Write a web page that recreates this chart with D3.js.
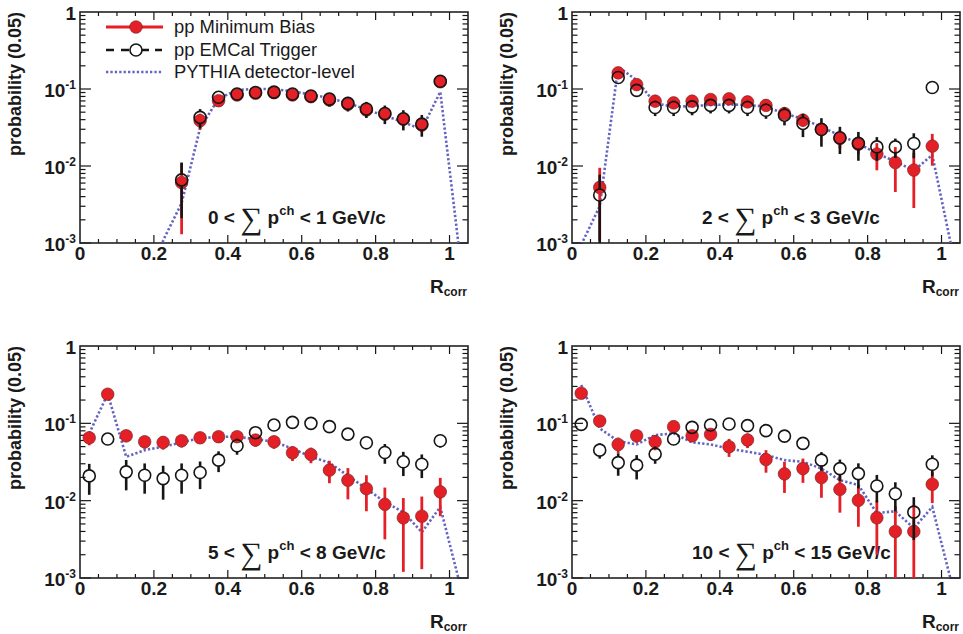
<!DOCTYPE html>
<html><head><meta charset="utf-8">
<script src="https://cdn.jsdelivr.net/npm/d3@7"></script>
<style>
body{margin:0;background:#fff}
svg{display:block}
text{font-family:"Liberation Sans",Arial,Helvetica,sans-serif}
</style>
</head><body>
<svg id="c" width="963" height="634"></svg>
<script>
// ---------- data ----------
const rcorrBins  = [0.025,0.075,0.125,0.175,0.225,0.275,0.325,0.375,0.425,0.475,0.525,0.575,0.625,0.675,0.725,0.775,0.825,0.875,0.925,0.975];
const pythiaBins = [0.025,0.075,0.125,0.175,0.225,0.275,0.325,0.375,0.425,0.475,0.525,0.575,0.625,0.675,0.725,0.775,0.825,0.875,0.925,0.975,1.025];

const seriesNames = ["pp Minimum Bias","pp EMCal Trigger","PYTHIA detector-level"];
const ptRanges = [["0","1"],["2","3"],["5","8"],["10","15"]];
const xTickLabels = ["0","0.2","0.4","0.6","0.8","1"];
const xTickValues = [0,0.2,0.4,0.6,0.8,1];
const yTickExps = [0,-1,-2,-3];
const yTitle = "probability (0.05)";

// 0 < sum p < 1 GeV/c
const mb1     = [null,null,null,null,null,0.0061,0.0388,0.0705,0.0836,0.088,0.0895,0.0836,0.0794,0.072,0.0633,0.0533,0.0469,0.0404,0.034,0.124];
const mb1Err  = [null,null,null,null,null,0.0048,0.009,0.012,0.01,0.011,0.011,0.011,0.01,0.01,0.011,0.009,0.008,0.007,0.006,0.007];
const emc1    = [null,null,null,null,null,0.0066,0.0428,0.078,0.086,0.09,0.091,0.086,0.081,0.074,0.065,0.055,0.048,0.041,0.035,0.126];
const emc1Err = [null,null,null,null,null,0.0045,0.012,0.01,0.015,0.016,0.016,0.016,0.015,0.015,0.014,0.013,0.013,0.012,0.011,0.01];
const pythia1 = [0.00001,0.00001,0.00001,0.00001,0.00108,0.0033,0.031,0.075,0.097,0.1,0.1,0.093,0.085,0.076,0.066,0.054,0.045,0.037,0.03,0.092,0.0009];

// 2 < sum p < 3 GeV/c
const mb2     = [null,0.00527,0.162,0.114,0.0695,0.066,0.0695,0.073,0.0745,0.068,0.0612,0.048,0.0394,0.0301,0.0228,0.0192,0.0143,0.0111,0.00885,0.0181];
const mb2Err  = [null,0.0042,0.012,0.01,0.01,0.01,0.01,0.01,0.01,0.01,0.009,0.008,0.007,0.006,0.006,0.005,0.0055,0.0065,0.006,0.008];
const emc2    = [null,0.0042,0.141,0.096,0.0575,0.0575,0.0586,0.0612,0.0612,0.0575,0.053,0.0457,0.0357,0.0298,0.0233,0.0197,0.0177,0.0177,0.0196,0.1046];
const emc2Err = [null,0.0035,0.01,0.01,0.013,0.013,0.013,0.013,0.013,0.013,0.012,0.012,0.012,0.012,0.009,0.008,0.006,0.005,0.007,0.005];
const pythia2 = [0.00095,0.003,0.194,0.13,0.065,0.059,0.06,0.062,0.063,0.062,0.059,0.048,0.041,0.032,0.025,0.0197,0.0145,0.0115,0.0087,0.0139,0.00098];

// 5 < sum p < 8 GeV/c
const mb3     = [0.065,0.238,0.069,0.0578,0.0567,0.0596,0.065,0.0672,0.0672,0.0608,0.0578,0.0416,0.0395,0.0248,0.0184,0.0143,0.00896,0.006,0.0063,0.013];
const mb3Err  = [0.013,0.02,0.012,0.011,0.011,0.011,0.011,0.011,0.011,0.011,0.011,0.009,0.009,0.008,0.008,0.007,0.0058,0.0048,0.005,0.0067];
const emc3    = [0.0209,0.0626,0.0236,0.0213,0.0193,0.0213,0.0231,0.0334,0.0513,0.0757,0.095,0.103,0.1,0.0906,0.0726,0.0561,0.042,0.0318,0.0296,0.0596];
const emc3Err = [0.009,0.009,0.01,0.009,0.009,0.009,0.009,0.01,0.012,0.01,0.008,0.008,0.008,0.008,0.009,0.01,0.012,0.011,0.01,0.011];
const pythia3 = [0.074,0.24,0.037,0.045,0.05,0.0567,0.064,0.067,0.067,0.0625,0.058,0.047,0.037,0.031,0.021,0.0143,0.0096,0.0071,0.0039,0.0083,0.00095];

// 10 < sum p < 15 GeV/c
const mb4     = [0.245,0.107,0.0533,0.069,0.0578,0.0906,0.069,0.072,0.0498,0.0608,0.034,0.0222,0.026,0.0199,0.014,0.0101,0.006,0.004,0.004,0.0163];
const mb4Err  = [0.02,0.015,0.012,0.013,0.013,0.01,0.012,0.013,0.013,0.013,0.011,0.0096,0.009,0.009,0.007,0.0055,0.004,0.0045,0.0048,0.007];
const emc4    = [0.097,0.045,0.031,0.0288,0.04,0.0626,0.0887,0.095,0.098,0.0933,0.0804,0.0684,0.055,0.0334,0.026,0.0224,0.0155,0.0123,0.0071,0.0296];
const emc4Err = [0.012,0.01,0.01,0.01,0.01,0.01,0.01,0.01,0.01,0.01,0.009,0.009,0.009,0.009,0.008,0.008,0.006,0.005,0.004,0.009];
const pythia4 = [0.314,0.086,0.059,0.0533,0.0705,0.074,0.0567,0.0533,0.047,0.043,0.039,0.0334,0.0318,0.026,0.0184,0.0159,0.0069,0.0073,0.0044,0.0083,0.00095];

// ---------- drawing ----------
const RED = "#e51f26", BLACK = "#161616", BLUE = "#6464c2";
const W = 388, R = 6;
const svg = d3.select("#c");
const defs = svg.append("defs");

const panels = [
  {left:80,  top:12,  h:231, mb:mb1, mbErr:mb1Err, emc:emc1, emcErr:emc1Err, py:pythia1, range:ptRanges[0], labelDx:128},
  {left:572, top:12,  h:231, mb:mb2, mbErr:mb2Err, emc:emc2, emcErr:emc2Err, py:pythia2, range:ptRanges[1], labelDx:130},
  {left:80,  top:346, h:232, mb:mb3, mbErr:mb3Err, emc:emc3, emcErr:emc3Err, py:pythia3, range:ptRanges[2], labelDx:128},
  {left:572, top:346, h:232, mb:mb4, mbErr:mb4Err, emc:emc4, emcErr:emc4Err, py:pythia4, range:ptRanges[3], labelDx:120}
];

panels.forEach((p, i) => {
  const g = svg.append("g");
  const x = d3.scaleLinear().domain([0, 1.05]).range([p.left, p.left + W]);
  const y = d3.scaleLog().domain([1e-3, 1]).range([p.top + p.h, p.top]);
  const bottom = p.top + p.h, right = p.left + W;

  defs.append("clipPath").attr("id", "clip" + i)
    .append("rect").attr("x", p.left).attr("y", p.top).attr("width", W).attr("height", p.h);

  // ticks x
  const xt = d3.range(1, 21).map(k => k * 0.05);
  xt.forEach((v, k) => {
    const len = ((k + 1) % 4 === 0) ? 8 : 4;
    g.append("line").attr("x1", x(v)).attr("x2", x(v)).attr("y1", bottom).attr("y2", bottom - len)
      .attr("stroke", BLACK).attr("stroke-width", 1.2);
    g.append("line").attr("x1", x(v)).attr("x2", x(v)).attr("y1", p.top).attr("y2", p.top + len)
      .attr("stroke", BLACK).attr("stroke-width", 1.2);
  });
  // ticks y
  const yt = [];
  [-3, -2, -1].forEach(d => { for (let m = 1; m <= 9; m++) yt.push({v: m * Math.pow(10, d), major: m === 1}); });
  yt.forEach(t => {
    const len = t.major ? 11 : 5.5;
    g.append("line").attr("x1", p.left).attr("x2", p.left + len).attr("y1", y(t.v)).attr("y2", y(t.v))
      .attr("stroke", BLACK).attr("stroke-width", 1.2);
    g.append("line").attr("x1", right).attr("x2", right - len).attr("y1", y(t.v)).attr("y2", y(t.v))
      .attr("stroke", BLACK).attr("stroke-width", 1.2);
  });

  // frame
  g.append("rect").attr("x", p.left).attr("y", p.top).attr("width", W).attr("height", p.h)
    .attr("fill", "none").attr("stroke", "#222").attr("stroke-width", 1.6);

  // x tick labels
  xTickValues.forEach((v, k) => {
    g.append("text").attr("x", x(v)).attr("y", bottom + 17).attr("text-anchor", "middle")
      .attr("font-size", 19).attr("font-weight", "bold").attr("fill", "#1a1a1a").text(xTickLabels[k]);
  });
  // y tick labels
  yTickExps.forEach(e => {
    const t = g.append("text").attr("x", p.left - 4).attr("y", y(Math.pow(10, e)) + 8)
      .attr("text-anchor", "end").attr("font-size", 19).attr("font-weight", "bold").attr("fill", "#1a1a1a");
    if (e === 0) t.text("1");
    else {
      t.append("tspan").text("10");
      t.append("tspan").attr("font-size", 12).attr("dy", -8).text(String(e));
    }
  });
  // y title
  g.append("text").attr("transform", `translate(${p.left - 59},${p.top}) rotate(-90)`)
    .attr("text-anchor", "end").attr("font-size", 18).attr("font-weight", "bold").attr("fill", "#1a1a1a")
    .text(yTitle);
  // x title
  const xtT = g.append("text").attr("x", right - 1).attr("y", bottom + 50).attr("text-anchor", "end")
    .attr("font-weight", "bold").attr("fill", "#1a1a1a");
  xtT.append("tspan").attr("font-size", 19).text("R");
  xtT.append("tspan").attr("font-size", 12).attr("dy", 3).text("corr");

  // panel label
  const lab = g.append("text").attr("x", p.left + p.labelDx).attr("y", bottom - 19)
    .attr("font-size", 19).attr("font-weight", "bold").attr("fill", "#1a1a1a");
  lab.append("tspan").text(p.range[0] + " < ");
  lab.append("tspan").attr("font-family", "'Liberation Serif','DejaVu Serif',serif").attr("font-weight", "normal")
    .attr("font-size", 31).attr("dy", 5).text("\u2211");
  lab.append("tspan").attr("dy", -5).text(" p");
  lab.append("tspan").attr("font-size", 13).attr("dy", -9).text("ch");
  lab.append("tspan").attr("dy", 9).text(" < " + p.range[1] + " GeV/c");

  // PYTHIA line
  const line = d3.line().x((d, k) => x(pythiaBins[k])).y(d => y(d));
  g.append("path").attr("clip-path", `url(#clip${i})`).datum(p.py).attr("d", line)
    .attr("fill", "none").attr("stroke", BLUE).attr("stroke-width", 2.6).attr("stroke-dasharray", "2.3,2.1");

  const cg = g.append("g").attr("clip-path", `url(#clip${i})`);
  function errBars(vals, errs, color, w) {
    vals.forEach((v, k) => {
      if (v == null) return;
      const cx = x(rcorrBins[k]), cy = y(v);
      const up = y(v + errs[k]);
      const lo = v - errs[k] > 1e-6 ? y(v - errs[k]) : bottom + 10;
      if (up < cy - R) cg.append("line").attr("x1", cx).attr("x2", cx).attr("y1", cy - R).attr("y2", up)
        .attr("stroke", color).attr("stroke-width", w);
      if (lo > cy + R) cg.append("line").attr("x1", cx).attr("x2", cx).attr("y1", cy + R).attr("y2", lo)
        .attr("stroke", color).attr("stroke-width", w);
    });
  }
  errBars(p.mb, p.mbErr, RED, 2.8);
  p.mb.forEach((v, k) => {
    if (v == null) return;
    cg.append("circle").attr("cx", x(rcorrBins[k])).attr("cy", y(v)).attr("r", R + 0.3)
      .attr("fill", RED).attr("stroke", "#6b2020").attr("stroke-opacity", 0.6).attr("stroke-width", 1);
  });
  errBars(p.emc, p.emcErr, BLACK, 2.6);
  p.emc.forEach((v, k) => {
    if (v == null) return;
    cg.append("circle").attr("cx", x(rcorrBins[k])).attr("cy", y(v)).attr("r", R)
      .attr("fill", "none").attr("stroke", BLACK).attr("stroke-width", 1.6);
  });

  // legend (first panel)
  if (i === 0) {
    const lg = g.append("g");
    const rows = [27, 50, 72];
    const x0 = 106, x1 = 163, xc = 136, tx = 174;
    lg.append("line").attr("x1", x0).attr("x2", x1).attr("y1", rows[0]).attr("y2", rows[0])
      .attr("stroke", RED).attr("stroke-width", 2.8);
    lg.append("circle").attr("cx", xc).attr("cy", rows[0]).attr("r", R + 0.3).attr("fill", RED)
      .attr("stroke", "#6b2020").attr("stroke-opacity", 0.6).attr("stroke-width", 1);
    lg.append("line").attr("x1", x0).attr("x2", xc - R).attr("y1", rows[1]).attr("y2", rows[1])
      .attr("stroke", BLACK).attr("stroke-width", 2.6).attr("stroke-dasharray", "8,7");
    lg.append("line").attr("x1", xc + R).attr("x2", x1).attr("y1", rows[1]).attr("y2", rows[1])
      .attr("stroke", BLACK).attr("stroke-width", 2.6).attr("stroke-dasharray", "7,6");
    lg.append("circle").attr("cx", xc).attr("cy", rows[1]).attr("r", R).attr("fill", "none")
      .attr("stroke", BLACK).attr("stroke-width", 1.6);
    lg.append("line").attr("x1", x0).attr("x2", x1).attr("y1", rows[2]).attr("y2", rows[2])
      .attr("stroke", BLUE).attr("stroke-width", 2.6).attr("stroke-dasharray", "2.3,2.1");
    seriesNames.forEach((s, k) => {
      lg.append("text").attr("x", tx).attr("y", rows[k] + 6).attr("font-size", 18.4)
        .attr("fill", "#1a1a1a").text(s);
    });
  }
});
</script>
</body></html>
